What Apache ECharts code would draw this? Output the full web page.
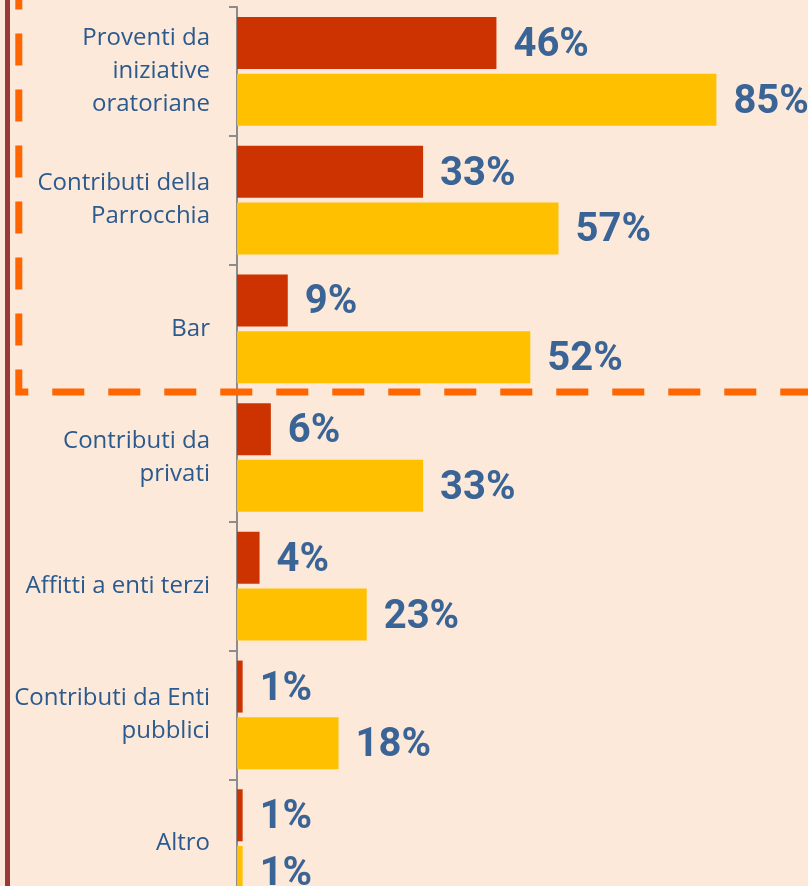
<!DOCTYPE html>
<html>
<head>
<meta charset="utf-8">
<script src="https://cdn.jsdelivr.net/npm/echarts@6/dist/echarts.min.js"></script>
<style>
html,body{margin:0;padding:0;background:#FDE9D9;overflow:hidden;}
#c{width:808px;height:920px;}
</style>
</head>
<body>
<div id="c"></div>
<script>
const categories = [
  'Proventi da\niniziative\noratoriane',
  'Contributi della\nParrocchia',
  'Bar',
  'Contributi da\nprivati',
  'Affitti a enti terzi',
  'Contributi da Enti\npubblici',
  'Altro'
];
const seriesRed = [46, 33, 9, 6, 4, 1, 1];
const seriesYellow = [85, 57, 52, 33, 23, 18, 1];

const chart = echarts.init(document.getElementById('c'));
const valueLabel = {
  show: true,
  position: 'right',
  distance: 17,
  offset: [0, 3],
  formatter: '{c}%',
  fontFamily: 'Roboto',
  fontWeight: 'bold',
  fontSize: 40,
  color: '#3A6496'
};
chart.setOption({
  backgroundColor: '#FDE9D9',
  animation: false,
  grid: { left: 237, top: 7, width: 564, height: 901, containLabel: false },
  xAxis: {
    type: 'value', min: 0, max: 100, show: false,
    splitLine: { show: false }
  },
  yAxis: {
    type: 'category',
    data: categories,
    inverse: true,
    axisLine: { show: true, lineStyle: { color: '#8C8C8C', width: 2 } },
    axisTick: { show: true, length: 8, lineStyle: { color: '#8C8C8C', width: 2 } },
    axisLabel: {
      margin: 27,
      fontFamily: 'Open Sans',
      fontSize: 24,
      lineHeight: 33,
      color: '#2B5A8E',
      align: 'right'
    }
  },
  series: [
    { type: 'bar', data: seriesRed, barWidth: 52, barGap: '9%',
      itemStyle: { color: '#CC3300' }, label: valueLabel },
    { type: 'bar', data: seriesYellow, barWidth: 52, barGap: '9%',
      itemStyle: { color: '#FFC000' }, label: valueLabel }
  ],
  graphic: [
    { type: 'rect', shape: { x: 5, y: 0, width: 5, height: 920 },
      style: { fill: '#9A3A36' }, z: 10 },
    { type: 'polyline', shape: { points: [[18.8, -22.5], [18.8, 392], [900, 392]] },
      style: { stroke: '#FF6600', lineWidth: 7, lineDash: [32, 24], fill: null, lineCap: 'butt' }, z: 10 }
  ]
});
</script>
</body>
</html>
